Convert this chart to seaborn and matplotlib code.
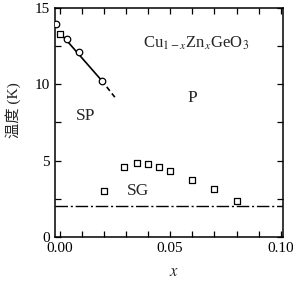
import numpy as np
import pandas as pd
import matplotlib
matplotlib.use('Agg')
import matplotlib.pyplot as plt
from matplotlib.ticker import MultipleLocator
import seaborn as sns

# Data (Cu1-xZnxGeO3)
sp_circle_x = [-0.0015, 0.0032, 0.0086, 0.019]
sp_circle_t = [13.95, 12.95, 12.1, 10.2]
sp_square_x = [0.0]
sp_square_t = [13.3]
sg_x = [0.020, 0.029, 0.035, 0.040, 0.045, 0.050, 0.060, 0.070, 0.080]
sg_t = [3.0, 4.6, 4.85, 4.75, 4.55, 4.3, 3.7, 3.15, 2.35]
fit_solid_x = [0.0, 0.019]
fit_solid_t = [13.4, 10.25]
fit_dash_x = [0.019, 0.025]
fit_dash_t = [10.25, 9.15]
base_x = [-0.002, 0.101]
base_t = [2.0, 2.0]

sns.set_style('ticks')
plt.rcParams['font.family'] = ['Liberation Serif', 'Noto Sans CJK SC']
plt.rcParams['mathtext.fontset'] = 'stix'

fig = plt.figure(figsize=(2.93, 2.81), dpi=100)
ax = fig.add_axes([0.188, 0.157, 0.778, 0.815])

sns.lineplot(x=fit_solid_x, y=fit_solid_t, ax=ax, color='black', lw=1.2)
sns.lineplot(x=fit_dash_x, y=fit_dash_t, ax=ax, color='black', lw=1.2, dashes=False,
             linestyle=(0, (3, 2)))
sns.lineplot(x=base_x, y=base_t, ax=ax, color='black', lw=1.0, linestyle=(0, (9, 2, 1.5, 2)))

sns.scatterplot(x=sp_circle_x, y=sp_circle_t, ax=ax, marker='o', s=22,
                facecolor='white', edgecolor='black', linewidth=0.9, zorder=3)
sns.scatterplot(x=sp_square_x, y=sp_square_t, ax=ax, marker='s', s=16,
                facecolor='white', edgecolor='black', linewidth=0.9, zorder=3)
sns.scatterplot(x=sg_x, y=sg_t, ax=ax, marker='s', s=16,
                facecolor='white', edgecolor='black', linewidth=0.9, zorder=3)

ax.set_xlim(-0.002, 0.101)
ax.set_ylim(0, 15)
ax.set_xticks([0.0, 0.05, 0.10])
ax.set_xticklabels(['0.00', '0.05', '0.10'])
ax.xaxis.set_minor_locator(MultipleLocator(0.01))
ax.set_yticks([0, 5, 10, 15])
ax.yaxis.set_minor_locator(MultipleLocator(2.5))
ax.tick_params(which='both', direction='in', top=True, right=True, width=0.9, labelsize=11,
               colors='black')
ax.tick_params(which='major', length=4, pad=4)
ax.tick_params(which='minor', length=4)
for sp in ax.spines.values():
    sp.set_linewidth(1.1)
    sp.set_color('black')

ax.text(0.0117, 7.9, 'SP', fontsize=12.5, ha='center', va='center')
ax.text(0.060, 9.1, 'P', fontsize=12.5, ha='center', va='center')
ax.text(0.0355, 3.0, 'SG', fontsize=12.5, ha='center', va='center')
ax.text(0.0617, 12.7, r'Cu$_{1-x}$Zn$_x$GeO$_3$', fontsize=12, ha='center', va='center')

ax.set_ylabel('温度 (K)', fontsize=11)
ax.yaxis.set_label_coords(-0.15, 0.555)
ax.set_xlabel('$x$', fontsize=12, va='center')
ax.xaxis.set_label_coords(0.52, -0.155)

fig.savefig('out.png', dpi=100)
